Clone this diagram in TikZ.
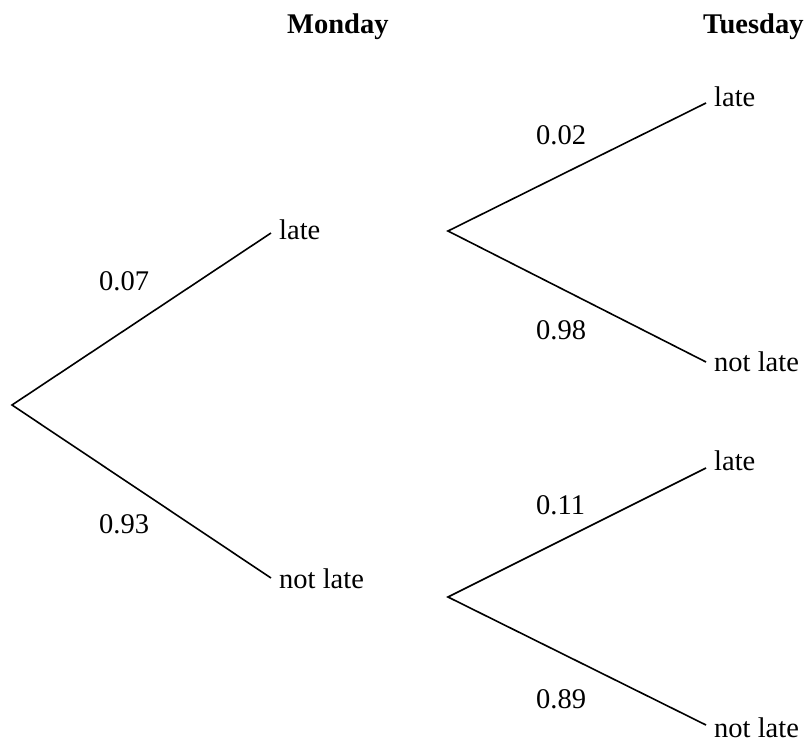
\documentclass[tikz,border=0pt]{standalone}
\usepackage{fontspec}
\setmainfont{Liberation Serif}
\begin{document}
\begin{tikzpicture}[x=1pt,y=-1pt,
  lbl/.style={anchor=base west,inner sep=0pt,font=\fontsize{28.5}{34}\selectfont},
  hdr/.style={anchor=base west,inner sep=0pt,font=\fontsize{28.5}{34}\selectfont\bfseries},
  branch/.style={line width=1.6pt,line join=miter}]
\useasboundingbox (0,0) rectangle (806,742);
% coordinates
\coordinate (r) at (12,405);
\coordinate (m1) at (271,233);
\coordinate (m2) at (271,578);
\coordinate (t1r) at (448,231);
\coordinate (t1a) at (706,103);
\coordinate (t1b) at (706,362);
\coordinate (t2r) at (448,597);
\coordinate (t2a) at (706,468);
\coordinate (t2b) at (706,725);
% headers
\node[hdr] (mon) at (287,33) {Monday};
\node[hdr] (tue) at (703,33) {Tuesday};
% outcome labels
\node[lbl] (ml) at (279,239) {late};
\node[lbl] (mn) at (279,588) {not late};
\node[lbl] (t1l) at (714,106) {late};
\node[lbl] (t1n) at (714,371) {not late};
\node[lbl] (t2l) at (714,470) {late};
\node[lbl] (t2n) at (714,737) {not late};
% probabilities
\node[lbl] (p1) at (99,290) {0.07};
\node[lbl] (p2) at (99,533) {0.93};
\node[lbl] (p3) at (536,144) {0.02};
\node[lbl] (p4) at (536,339) {0.98};
\node[lbl] (p5) at (536,514) {0.11};
\node[lbl] (p6) at (536,708) {0.89};
% branches
\draw[branch] (m1) -- (r) -- (m2);
\draw[branch] (t1a) -- (t1r) -- (t1b);
\draw[branch] (t2a) -- (t2r) -- (t2b);
\end{tikzpicture}
\end{document}
